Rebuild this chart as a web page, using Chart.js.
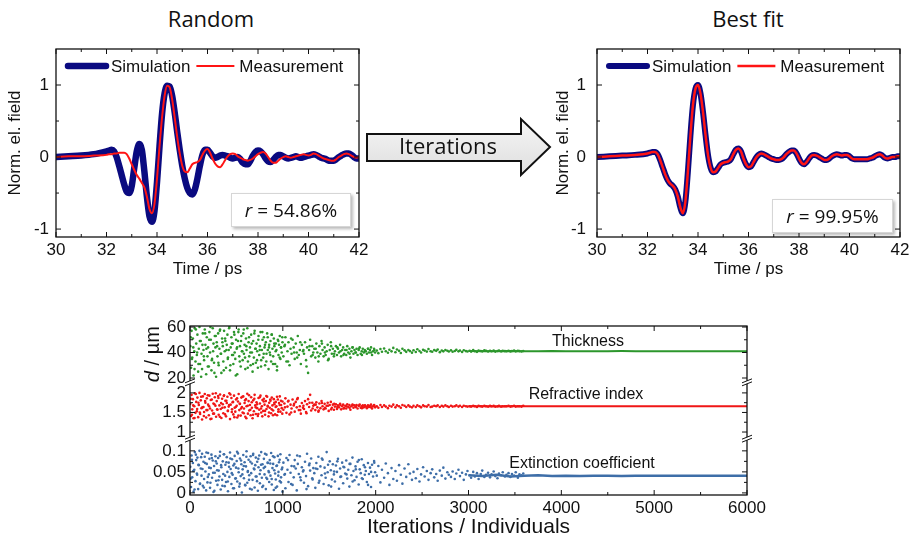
<!DOCTYPE html>
<html>
<head>
<meta charset="utf-8">
<script src="https://cdn.jsdelivr.net/npm/chart.js@4.4.1/dist/chart.umd.min.js"></script>
<style>
  body { margin: 0; width: 913px; height: 543px; background: #fff; position: relative; overflow: hidden; font-family: Arial, "Liberation Sans", sans-serif; }
  canvas { position: absolute; }
  .title { position: absolute; top: 3px; font-family: "Open Sans", sans-serif; font-size: 22px; color: #111; transform: translateX(-50%); white-space: nowrap; }
  .rbox { position: absolute; background: #fff; border: 1px solid #d6d6d6; box-shadow: 2px 2px 3px rgba(0,0,0,0.28); font-family: "Open Sans", sans-serif; font-size: 19px; color: #111; text-align: center; }
  .panel-label { position: absolute; font-size: 16px; color: #111; transform: translate(-50%, -50%); white-space: nowrap; }
  svg { position: absolute; left: 0; top: 0; }
</style>
</head>
<body>

<div class="title" style="left:211px">Random</div>
<div class="title" style="left:748px">Best fit</div>

<canvas id="random_fit" width="370" height="245" style="left:0;top:40px"></canvas>
<canvas id="best_fit" width="364" height="245" style="left:548px;top:40px"></canvas>
<canvas id="evolution" width="640" height="233" style="left:130px;top:310px"></canvas>

<svg width="913" height="300">
  <defs>
    <linearGradient id="arrowFill" x1="0" y1="0" x2="0" y2="1">
      <stop offset="0" stop-color="#f6f6f6"/>
      <stop offset="1" stop-color="#dedede"/>
    </linearGradient>
  </defs>
  <polygon points="367,134 521,134 521,119 550,147 521,175 521,161 367,161" fill="url(#arrowFill)" stroke="#111" stroke-width="2" stroke-linejoin="miter"/>
  <text x="448" y="154" text-anchor="middle" font-family="Open Sans, sans-serif" font-size="22" fill="#111">Iterations</text>
</svg>

<div class="rbox" style="left:231px;top:193px;width:118px;height:32px;line-height:32px"><i>r</i> = 54.86%</div>
<div class="rbox" style="left:772px;top:199px;width:119px;height:32px;line-height:32px"><i>r</i> = 99.95%</div>

<div class="panel-label" style="left:588px;top:341px">Thickness</div>
<div class="panel-label" style="left:586px;top:394px">Refractive index</div>
<div class="panel-label" style="left:582px;top:463px">Extinction coefficient</div>

<script>
/* dados das formas de onda (campo normalizado vs tempo em ps) */

const timePs = [30, 30.5, 31, 31.5,
  32.0, 32.1, 32.2, 32.3, 32.4, 32.5, 32.6, 32.7, 32.8, 32.9,
  33.0, 33.1, 33.2, 33.3, 33.4, 33.5, 33.6, 33.7, 33.8, 33.9,
  34.0, 34.1, 34.2, 34.3, 34.4, 34.5, 34.6, 34.7, 34.8, 34.9,
  35.0, 35.1, 35.2, 35.3, 35.4, 35.5, 35.6, 35.7, 35.8, 35.9,
  36.0, 36.1, 36.2, 36.3, 36.4, 36.5, 36.6, 36.7, 36.8, 36.9,
  37.0, 37.1, 37.2, 37.3, 37.4, 37.5, 37.6, 37.7, 37.8, 37.9,
  38.0, 38.1, 38.2, 38.3, 38.4, 38.5, 38.6, 38.7, 38.8, 38.9,
  39.0, 39.1, 39.2, 39.3, 39.4, 39.5, 39.6, 39.7, 39.8, 39.9,
  40.0, 40.1, 40.2, 40.3, 40.4, 40.5, 40.6, 40.7, 40.8, 40.9,
  41.0, 41.1, 41.2, 41.3, 41.4, 41.5, 41.6, 41.7, 41.8, 41.9,
  42.0];

const randomSimulation = [0.0, 0.01, 0.02, 0.04,
  0.08, 0.09, 0.1, 0.08, 0.0, -0.12, -0.25, -0.38, -0.48, -0.5,
  -0.4, -0.15, 0.08, 0.18, 0.1, -0.2, -0.55, -0.82, -0.9, -0.75,
  -0.35, 0.15, 0.6, 0.88, 0.99, 0.98, 0.85, 0.62, 0.35, 0.1,
  -0.12, -0.3, -0.43, -0.5, -0.52, -0.45, -0.3, -0.12, 0.03, 0.1,
  0.1, 0.06, 0.01, -0.01, 0.0, 0.02, 0.03, 0.02, 0.01, -0.01,
  -0.02, -0.01, 0.0, -0.03, -0.08, -0.1, -0.1, -0.05, 0.02, 0.07,
  0.09, 0.08, 0.04, -0.02, -0.06, -0.07, -0.04, 0.0, 0.03, 0.03,
  0.01, -0.01, -0.02, -0.01, 0.0, 0.01, 0.0, -0.01, 0.0, 0.01,
  0.02, 0.03, 0.04, 0.03, 0.01, -0.01, -0.02, -0.03, -0.05, -0.05,
  -0.05, -0.03, 0.0, 0.02, 0.04, 0.05, 0.05, 0.03, 0.0, -0.02,
  -0.02];

const randomMeasurement = [0.0, 0.01, 0.01, 0.02,
  0.03, 0.04, 0.04, 0.05, 0.05, 0.06, 0.06, 0.06, 0.04, -0.02,
  -0.1, -0.18, -0.25, -0.3, -0.36, -0.42, -0.55, -0.72, -0.78, -0.65,
  -0.3, 0.15, 0.55, 0.85, 0.99, 0.97, 0.8, 0.55, 0.28, 0.05,
  -0.12, -0.2, -0.21, -0.16, -0.1, -0.08, -0.07, -0.04, 0.03, 0.09,
  0.11, 0.06, -0.02, -0.09, -0.13, -0.14, -0.1, -0.04, 0.01, 0.04,
  0.05, 0.04, 0.01, -0.01, -0.03, -0.04, -0.05, -0.04, -0.02, 0.01,
  0.04, 0.06, 0.07, 0.05, 0.0, -0.05, -0.08, -0.08, -0.05, -0.02,
  0.0, 0.01, 0.0, -0.01, 0.0, 0.01, 0.02, 0.03, 0.04, 0.03,
  0.02, 0.03, 0.05, 0.04, 0.02, 0.0, -0.02, -0.03, -0.04, -0.05,
  -0.05, -0.03, 0.0, 0.02, 0.04, 0.05, 0.04, 0.02, 0.0, -0.01,
  0.0];

const bestFitMeasurement = [0.0, 0.01, 0.02, 0.03,
  0.05, 0.06, 0.07, 0.07, 0.04, -0.04, -0.14, -0.24, -0.32, -0.37,
  -0.4, -0.45, -0.55, -0.7, -0.78, -0.62, -0.2, 0.3, 0.72, 0.95,
  1.0, 0.88, 0.62, 0.3, 0.02, -0.15, -0.21, -0.2, -0.15, -0.1,
  -0.08, -0.07, -0.06, -0.03, 0.04, 0.1, 0.12, 0.08, -0.02, -0.1,
  -0.14, -0.13, -0.07, -0.01, 0.03, 0.05, 0.04, 0.02, 0.0, -0.02,
  -0.03, -0.04, -0.04, -0.03, 0.0, 0.04, 0.07, 0.09, 0.09, 0.05,
  -0.02, -0.08, -0.1, -0.07, -0.02, 0.02, 0.03, 0.02, 0.0, -0.02,
  -0.04, -0.04, -0.02, 0.01, 0.03, 0.04, 0.03, 0.02, 0.03, 0.03,
  0.01, -0.02, -0.03, -0.03, -0.03, -0.03, -0.03, -0.03, -0.02, -0.01,
  0.01, 0.03, 0.04, 0.02, -0.01, -0.02, -0.01, 0.0, 0.0, 0.01,
  0.01];

const bestFitSimulation = [0.0, 0.01, 0.02, 0.03,
  0.05, 0.06, 0.07, 0.07, 0.04, -0.04, -0.14, -0.24, -0.32, -0.37,
  -0.4, -0.45, -0.55, -0.7, -0.78, -0.62, -0.2, 0.3, 0.72, 0.95,
  1.0, 0.88, 0.62, 0.3, 0.02, -0.15, -0.21, -0.2, -0.15, -0.1,
  -0.08, -0.07, -0.06, -0.03, 0.04, 0.1, 0.12, 0.08, -0.02, -0.1,
  -0.14, -0.13, -0.07, -0.01, 0.03, 0.05, 0.04, 0.02, 0.0, -0.02,
  -0.03, -0.04, -0.04, -0.03, 0.0, 0.04, 0.07, 0.09, 0.09, 0.05,
  -0.02, -0.08, -0.1, -0.07, -0.02, 0.02, 0.03, 0.02, 0.0, -0.02,
  -0.04, -0.04, -0.02, 0.01, 0.03, 0.04, 0.03, 0.02, 0.03, 0.03,
  0.01, -0.02, -0.03, -0.03, -0.03, -0.03, -0.03, -0.03, -0.02, -0.01,
  0.01, 0.03, 0.04, 0.02, -0.01, -0.02, -0.01, 0.0, 0.0, 0.01,
  0.01];

const timeTicks = [30, 32, 34, 36, 38, 40, 42];
const timeMinorTicks = [31, 33, 35, 37, 39, 41];
const fieldTicks = [-1, 0, 1];
const fieldMinorTicks = [-0.5, 0.5];

/* dados da evolução dos parâmetros (um ponto por indivíduo) */

const iterations = [
  3, 11, 17, 24, 31, 38, 46, 52, 59, 67,
  74, 80, 88, 95, 102, 109, 116, 124, 130, 138,
  145, 152, 159, 166, 174, 181, 188, 195, 203, 209,
  216, 224, 231, 238, 245, 253, 259, 267, 274, 281,
  288, 296, 303, 309, 317, 324, 331, 338, 346, 353,
  359, 367, 374, 381, 388, 396, 403, 409, 417, 424,
  431, 438, 446, 453, 459, 467, 474, 481, 488, 496,
  503, 509, 517, 524, 531, 538, 546, 553, 559, 567,
  574, 581, 588, 596, 603, 609, 617, 624, 631, 638,
  646, 653, 659, 667, 674, 681, 688, 696, 703, 709,
  717, 724, 731, 738, 746, 753, 759, 767, 774, 781,
  788, 796, 803, 809, 817, 824, 831, 838, 846, 853,
  859, 867, 874, 881, 888, 896, 903, 909, 917, 924,
  931, 938, 946, 953, 959, 967, 974, 981, 988, 996,
  1006, 1017, 1028, 1039, 1050, 1061, 1072, 1083, 1094, 1105,
  1117, 1128, 1139, 1150, 1161, 1172, 1183, 1194, 1205, 1217,
  1228, 1239, 1250, 1261, 1272, 1283, 1294, 1305, 1317, 1328,
  1339, 1350, 1361, 1372, 1383, 1394, 1405, 1417, 1428, 1439,
  1450, 1461, 1472, 1483, 1494, 1505, 1517, 1528, 1539, 1550,
  1561, 1572, 1583, 1594, 1605, 1617, 1628, 1639, 1650, 1661,
  1672, 1683, 1694, 1705, 1717, 1728, 1739, 1750, 1761, 1772,
  1783, 1794, 1805, 1817, 1828, 1839, 1850, 1861, 1872, 1883,
  1894, 1905, 1917, 1928, 1939, 1950, 1961, 1972, 1983, 1994,
  2012, 2029, 2051, 2068, 2091, 2109, 2132, 2148, 2171, 2190,
  2213, 2229, 2252, 2271, 2288, 2311, 2329, 2352, 2369, 2391,
  2408, 2432, 2449, 2472, 2489, 2511, 2528, 2551, 2569, 2592,
  2609, 2631, 2652, 2668, 2691, 2712, 2729, 2751, 2772, 2788,
  2811, 2829, 2852, 2869, 2892, 2908, 2931, 2949, 2972, 2989,
  3012, 3028, 3051, 3069, 3091, 3109, 3132, 3148, 3171, 3189,
  3211, 3232, 3248, 3271, 3289, 3312, 3328, 3351, 3369, 3392,
  3409, 3431, 3452, 3468, 3491, 3509, 3532, 3549, 3571, 3590,
  7, 21, 35, 49, 63, 77, 91, 106, 120, 134,
  149, 163, 177, 192, 206, 220, 235, 249, 263, 278,
  292, 306, 321, 335, 349, 364, 378, 392, 407, 421,
  435, 450, 464, 478, 493, 507, 521, 536, 550, 564,
  579, 593, 607, 622, 636, 650, 665, 679, 693, 708,
  722, 736, 751, 765, 779, 794, 808, 822, 837, 851,
  865, 880, 894, 908, 923, 937, 951, 966, 980, 994,
  1023, 1056, 1089, 1122, 1155, 1188, 1222, 1255, 1288, 1321,
  1354, 1387, 1421, 1454, 1487, 1520, 1553, 1587, 1620, 1653,
  1686, 1719, 1752, 1786, 1819, 1852, 1885, 1918, 1951, 1985];

const thickness = [
  45, 28, 57, 36, 51, 22, 41, 59, 33, 47,
  38, 54, 25, 43, 60, 31, 49, 39, 27, 55,
  42, 34, 58, 46, 23, 52, 37, 44, 29, 56,
  40, 50, 26, 35, 59, 47, 32, 53, 44, 21,
  48, 37, 55, 30, 43, 58, 39, 24, 51, 45,
  33, 57, 41, 49, 28, 46, 54, 36, 42, 60,
  26, 44, 52, 38, 47, 31, 56, 40, 35, 50,
  43, 23, 49, 58, 37, 45, 29, 53, 41, 34,
  55, 39, 46, 27, 51, 42, 59, 33, 48, 37,
  44, 30, 54, 40, 25, 49, 36, 57, 43, 32,
  47, 41, 28, 53, 38, 45, 56, 34, 42, 50,
  36, 52, 44, 30, 48, 39, 55, 42, 27, 46,
  40, 49, 33, 54, 43, 37, 51, 45, 31, 47,
  42, 29, 50, 38, 46, 53, 35, 44, 40, 48,
  37, 45, 52, 33, 41, 48, 30, 43, 39, 50,
  44, 35, 47, 40, 53, 38, 42, 31, 46, 41,
  39, 48, 34, 44, 24, 42, 50, 37, 45, 40,
  43, 36, 47, 40, 33, 45, 39, 49, 42, 37,
  44, 38, 41, 46, 35, 42, 48, 39, 43, 37,
  41, 45, 38, 43, 40, 46, 37, 42, 44, 39,
  42, 38, 45, 40, 43, 36, 41, 44, 39, 42,
  40, 43, 38, 42, 44, 39, 41, 43, 40, 42,
  41, 39, 43, 40, 42, 44, 38, 41, 43, 40,
  41.5, 39.5, 42.8, 40.6, 43.2, 41.0, 39.8, 42.2, 40.9, 43.6,
  40.2, 42.4, 41.3, 39.6, 42.9, 41.7, 40.5, 42.0, 41.1, 39.9,
  41.8, 40.4, 42.5, 41.2, 40.0, 42.1, 41.5, 40.7, 42.7, 41.0,
  40.6, 41.9, 41.3, 42.3, 40.3, 41.6, 40.9, 42.0, 41.4, 40.8,
  41.7, 40.6, 41.2, 42.1, 40.9, 41.5, 40.4, 41.8, 41.1, 40.8,
  41.4, 40.7, 41.9, 41.0, 40.5, 41.6, 41.2, 40.9, 41.7, 41.3,
  40.8, 41.4, 41.0, 41.6, 40.7, 41.2, 41.5, 40.9, 41.3, 41.1,
  41.0, 41.4, 40.8, 41.2, 41.5, 40.9, 41.3, 41.1, 40.8, 41.2,
  52, 35, 44, 27, 58, 40, 31, 49, 21, 46,
  37, 55, 43, 29, 50, 60, 34, 41, 24, 53,
  45, 32, 57, 39, 48, 26, 51, 42, 35, 59,
  30, 47, 38, 54, 22, 44, 56, 33, 49, 41,
  58, 36, 45, 28, 52, 40, 47, 31, 55, 43,
  34, 50, 42, 29, 56, 39, 46, 33, 52, 44,
  38, 54, 31, 47, 41, 26, 49, 36, 44, 52,
  46, 33, 51, 40, 36, 48, 42, 29, 45, 38,
  43, 37, 47, 40, 34, 45, 39, 44, 41, 38,
  42, 39, 44, 40, 43, 38, 41, 43, 40, 42];

const refractiveIndex = [
  1.72, 1.41, 1.95, 1.58, 1.84, 1.35, 1.66, 1.99, 1.49, 1.77,
  1.53, 1.88, 1.38, 1.69, 2.0, 1.46, 1.81, 1.61, 1.32, 1.91,
  1.64, 1.51, 1.97, 1.75, 1.37, 1.86, 1.56, 1.70, 1.43, 1.93,
  1.60, 1.82, 1.34, 1.55, 1.98, 1.73, 1.47, 1.89, 1.67, 1.39,
  1.79, 1.57, 1.92, 1.44, 1.68, 1.96, 1.59, 1.36, 1.85, 1.71,
  1.48, 1.94, 1.63, 1.80, 1.40, 1.74, 1.90, 1.54, 1.65, 1.99,
  1.33, 1.70, 1.87, 1.58, 1.76, 1.45, 1.93, 1.62, 1.52, 1.83,
  1.67, 1.37, 1.78, 1.97, 1.56, 1.72, 1.42, 1.88, 1.64, 1.50,
  1.91, 1.60, 1.74, 1.39, 1.84, 1.66, 1.98, 1.47, 1.79, 1.55,
  1.69, 1.43, 1.89, 1.62, 1.35, 1.81, 1.53, 1.95, 1.68, 1.46,
  1.76, 1.61, 1.41, 1.87, 1.57, 1.73, 1.93, 1.50, 1.66, 1.82,
  1.54, 1.85, 1.70, 1.44, 1.79, 1.59, 1.90, 1.65, 1.40, 1.75,
  1.62, 1.80, 1.48, 1.88, 1.68, 1.55, 1.84, 1.71, 1.45, 1.77,
  1.66, 1.43, 1.83, 1.58, 1.74, 1.91, 1.52, 1.69, 1.61, 1.78,
  1.57, 1.73, 1.86, 1.49, 1.65, 1.80, 1.45, 1.70, 1.60, 1.83,
  1.68, 1.52, 1.77, 1.63, 1.87, 1.56, 1.66, 1.47, 1.74, 1.62,
  1.59, 1.79, 1.51, 1.71, 1.84, 1.64, 1.95, 1.55, 1.75, 1.67,
  1.70, 1.56, 1.76, 1.63, 1.52, 1.73, 1.61, 1.79, 1.66, 1.58,
  1.72, 1.60, 1.67, 1.75, 1.54, 1.69, 1.77, 1.62, 1.70, 1.57,
  1.65, 1.71, 1.59, 1.68, 1.63, 1.72, 1.58, 1.66, 1.70, 1.61,
  1.67, 1.60, 1.71, 1.64, 1.69, 1.57, 1.66, 1.70, 1.62, 1.68,
  1.64, 1.69, 1.60, 1.67, 1.70, 1.62, 1.66, 1.68, 1.63, 1.67,
  1.65, 1.61, 1.68, 1.64, 1.67, 1.70, 1.60, 1.66, 1.69, 1.63,
  1.66, 1.62, 1.69, 1.64, 1.68, 1.65, 1.61, 1.67, 1.65, 1.70,
  1.63, 1.68, 1.66, 1.62, 1.69, 1.67, 1.64, 1.68, 1.65, 1.63,
  1.67, 1.64, 1.68, 1.66, 1.63, 1.68, 1.66, 1.65, 1.69, 1.64,
  1.65, 1.67, 1.66, 1.68, 1.64, 1.67, 1.65, 1.68, 1.66, 1.64,
  1.67, 1.65, 1.66, 1.68, 1.65, 1.67, 1.64, 1.67, 1.66, 1.65,
  1.66, 1.65, 1.67, 1.66, 1.64, 1.67, 1.66, 1.65, 1.67, 1.66,
  1.65, 1.67, 1.66, 1.67, 1.65, 1.66, 1.67, 1.65, 1.66, 1.66,
  1.66, 1.67, 1.65, 1.66, 1.67, 1.65, 1.66, 1.66, 1.65, 1.67,
  1.85, 1.44, 1.68, 1.36, 1.97, 1.59, 1.75, 1.50, 1.90, 1.63,
  1.41, 1.79, 1.56, 1.94, 1.66, 1.33, 1.83, 1.47, 1.71, 1.99,
  1.58, 1.87, 1.39, 1.74, 1.62, 1.92, 1.45, 1.80, 1.54, 1.69,
  1.96, 1.51, 1.77, 1.38, 1.64, 1.86, 1.42, 1.72, 1.60, 1.90,
  1.48, 1.81, 1.35, 1.67, 1.94, 1.57, 1.76, 1.44, 1.85, 1.63,
  1.71, 1.46, 1.89, 1.60, 1.40, 1.78, 1.54, 1.92, 1.67, 1.50,
  1.83, 1.58, 1.43, 1.75, 1.64, 1.90, 1.52, 1.69, 1.80, 1.47,
  1.63, 1.78, 1.50, 1.72, 1.84, 1.56, 1.67, 1.48, 1.75, 1.60,
  1.70, 1.55, 1.74, 1.62, 1.67, 1.58, 1.72, 1.64, 1.69, 1.60,
  1.66, 1.62, 1.69, 1.64, 1.67, 1.61, 1.68, 1.65, 1.63, 1.67];

const extinction = [
  0.062, 0.014, 0.089, 0.037, 0.071, 0.003, 0.055, 0.097, 0.028, 0.078,
  0.046, 0.084, 0.009, 0.066, 0.1, 0.022, 0.058, 0.041, 0.093, 0.017,
  0.074, 0.033, 0.086, 0.051, 0.006, 0.069, 0.025, 0.095, 0.044, 0.081,
  0.012, 0.059, 0.091, 0.036, 0.077, 0.002, 0.064, 0.048, 0.087, 0.029,
  0.07, 0.019, 0.083, 0.053, 0.039, 0.098, 0.008, 0.061, 0.031, 0.075,
  0.045, 0.092, 0.016, 0.067, 0.026, 0.085, 0.05, 0.004, 0.072, 0.038,
  0.096, 0.057, 0.021, 0.08, 0.043, 0.065, 0.011, 0.088, 0.034, 0.06,
  0.076, 0.027, 0.094, 0.049, 0.015, 0.082, 0.04, 0.068, 0.001, 0.056,
  0.09, 0.035, 0.073, 0.018, 0.063, 0.099, 0.024, 0.052, 0.079, 0.042,
  0.01, 0.087, 0.047, 0.07, 0.031, 0.093, 0.058, 0.013, 0.066, 0.084,
  0.039, 0.074, 0.005, 0.061, 0.089, 0.023, 0.054, 0.097, 0.036, 0.068,
  0.017, 0.081, 0.044, 0.062, 0.009, 0.091, 0.033, 0.071, 0.052, 0.026,
  0.078, 0.041, 0.095, 0.02, 0.059, 0.069, 0.007, 0.085, 0.046, 0.032,
  0.064, 0.015, 0.088, 0.05, 0.073, 0.028, 0.092, 0.037, 0.056, 0.003,
  0.072, 0.043, 0.011, 0.083, 0.055, 0.026, 0.09, 0.048, 0.064, 0.019,
  0.037, 0.078, 0.058, 0.006, 0.069, 0.045, 0.087, 0.03, 0.061, 0.051,
  0.024, 0.074, 0.04, 0.093, 0.016, 0.066, 0.053, 0.082, 0.035, 0.059,
  0.047, 0.012, 0.071, 0.057, 0.086, 0.029, 0.063, 0.042, 0.079, 0.021,
  0.06, 0.036, 0.097, 0.049, 0.018, 0.075, 0.054, 0.032, 0.068, 0.044,
  0.027, 0.065, 0.05, 0.081, 0.01, 0.058, 0.039, 0.072, 0.023, 0.061,
  0.046, 0.077, 0.034, 0.055, 0.015, 0.069, 0.042, 0.084, 0.052, 0.03,
  0.063, 0.038, 0.074, 0.02, 0.056, 0.047, 0.08, 0.033, 0.066, 0.043,
  0.052, 0.026, 0.071, 0.045, 0.06, 0.014, 0.067, 0.039, 0.076, 0.049,
  0.041, 0.064, 0.025, 0.055, 0.036, 0.07, 0.047, 0.019, 0.059, 0.033,
  0.052, 0.029, 0.066, 0.043, 0.022, 0.058, 0.038, 0.068, 0.046, 0.031,
  0.05, 0.035, 0.057, 0.027, 0.044, 0.061, 0.039, 0.052, 0.031, 0.047,
  0.056, 0.037, 0.045, 0.029, 0.053, 0.041, 0.06, 0.034, 0.049, 0.043,
  0.038, 0.051, 0.033, 0.046, 0.055, 0.04, 0.048, 0.031, 0.044, 0.052,
  0.042, 0.036, 0.05, 0.039, 0.047, 0.033, 0.045, 0.053, 0.038, 0.043,
  0.048, 0.037, 0.044, 0.051, 0.04, 0.035, 0.046, 0.042, 0.049, 0.039,
  0.043, 0.047, 0.038, 0.045, 0.041, 0.049, 0.036, 0.044, 0.042, 0.046,
  0.034, 0.079, 0.052, 0.008, 0.091, 0.043, 0.067, 0.021, 0.085, 0.057,
  0.013, 0.071, 0.096, 0.038, 0.06, 0.024, 0.083, 0.048, 0.005, 0.075,
  0.054, 0.03, 0.088, 0.066, 0.017, 0.092, 0.041, 0.073, 0.027, 0.062,
  0.082, 0.047, 0.011, 0.069, 0.035, 0.098, 0.058, 0.022, 0.077, 0.044,
  0.064, 0.019, 0.086, 0.05, 0.031, 0.074, 0.008, 0.09, 0.056, 0.039,
  0.028, 0.081, 0.045, 0.067, 0.014, 0.059, 0.093, 0.036, 0.072, 0.049,
  0.07, 0.033, 0.087, 0.054, 0.012, 0.065, 0.041, 0.079, 0.025, 0.06,
  0.045, 0.078, 0.021, 0.063, 0.089, 0.037, 0.054, 0.009, 0.07, 0.032,
  0.058, 0.024, 0.082, 0.046, 0.067, 0.015, 0.051, 0.075, 0.038, 0.062,
  0.044, 0.069, 0.027, 0.056, 0.078, 0.035, 0.061, 0.019, 0.05, 0.072];

/* valores convergidos (linha contínua no fim da otimização) */
const trendIterations = [3000, 3150, 3300, 3450, 3600, 3750, 3900, 4050, 4200, 4350,
  4500, 4650, 4800, 4950, 5100, 5250, 5400, 5550, 5700, 5850, 6000];
const thicknessTrend = [41.1, 41.0, 40.9, 41.1, 41.0, 41.0, 41.1, 40.9, 41.0, 41.0,
  41.0, 41.1, 41.0, 41.0, 41.0, 41.0, 41.0, 41.0, 41.0, 41.0, 41.0];
const refractiveTrend = [1.66, 1.66, 1.65, 1.66, 1.66, 1.66, 1.66, 1.66, 1.66, 1.66,
  1.66, 1.66, 1.66, 1.66, 1.66, 1.66, 1.66, 1.66, 1.66, 1.66, 1.66];
const extinctionTrend = [0.042, 0.04, 0.043, 0.039, 0.041, 0.042, 0.04, 0.041, 0.04, 0.041,
  0.041, 0.04, 0.041, 0.041, 0.041, 0.041, 0.041, 0.041, 0.041, 0.041, 0.041];

const iterTicks = [0, 1000, 2000, 3000, 4000, 5000, 6000];
const iterMinorTicks = [500, 1500, 2500, 3500, 4500, 5500];
const thicknessTicks = [20, 40, 60];
const thicknessMinorTicks = [30, 50];
const refractiveTicks = [1, 1.5, 2];
const refractiveMinorTicks = [1.25, 1.75];
const extinctionTicks = [0, 0.05, 0.1];
const extinctionMinorTicks = [0.025, 0.075];

/* estilo geral */

Chart.defaults.font.family = 'Arial, "Liberation Sans", sans-serif';
Chart.defaults.color = '#111';
Chart.defaults.animation = false;

const NAVY = 'rgb(10, 10, 128)';
const RED = 'rgb(255, 20, 20)';
const GREEN = 'rgb(44, 150, 44)';
const SCARLET = 'rgb(240, 22, 22)';
const BLUE = 'rgb(62, 110, 168)';

const pts = (xs, ys) => xs.map((x, i) => ({ x: x, y: ys[i] }));
const fixTicks = (values) => (scale) => { scale.ticks = values.map(v => ({ value: v })); };

/* moldura estilo Origin: caixa preta, marcas para dentro nos quatro lados e quebras de eixo */
const originFrame = {
  id: 'originFrame',
  afterDatasetsDraw(chart, args, opts) {
    const ctx = chart.ctx;
    const a = chart.chartArea;
    ctx.save();
    ctx.strokeStyle = '#111';
    ctx.lineWidth = 1.3;
    ctx.strokeRect(a.left, a.top, a.right - a.left, a.bottom - a.top);
    ctx.lineWidth = 1;
    const mark = (s, v, len) => {
      const p = s.getPixelForValue(v);
      ctx.beginPath();
      if (s.isHorizontal()) {
        ctx.moveTo(p, a.bottom); ctx.lineTo(p, a.bottom - len);
        ctx.moveTo(p, a.top); ctx.lineTo(p, a.top + len);
      } else {
        ctx.moveTo(a.left, p); ctx.lineTo(a.left + len, p);
        ctx.moveTo(a.right, p); ctx.lineTo(a.right - len, p);
      }
      ctx.stroke();
    };
    Object.values(chart.scales).forEach(s => {
      s.ticks.forEach(t => mark(s, t.value, 5));
      ((opts.minor || {})[s.id] || []).forEach(v => mark(s, v, 3));
    });
    (opts.breaks || []).forEach(id => {
      const y = chart.scales[id].top;
      [a.left, a.right].forEach(x => {
        ctx.fillStyle = '#fff';
        ctx.fillRect(x - 2, y - 1.5, 4, 3);
        ctx.beginPath();
        ctx.moveTo(x - 5, y + 0.5); ctx.lineTo(x + 5, y - 3.5);
        ctx.moveTo(x - 5, y + 3.5); ctx.lineTo(x + 5, y - 0.5);
        ctx.stroke();
      });
    });
    ctx.restore();
  }
};

/* legenda dentro da área do gráfico */
const inlineLegend = {
  id: 'inlineLegend',
  afterDraw(chart) {
    const ctx = chart.ctx;
    const a = chart.chartArea;
    let x = a.left + 12;
    const y = a.top + 17;
    ctx.save();
    ctx.font = '17px Arial, "Liberation Sans", sans-serif';
    ctx.textBaseline = 'middle';
    ctx.fillStyle = '#111';
    chart.data.datasets.forEach(ds => {
      ctx.strokeStyle = ds.borderColor;
      ctx.lineWidth = ds.borderWidth;
      ctx.lineCap = ds.borderWidth > 3 ? 'round' : 'butt';
      ctx.beginPath();
      ctx.moveTo(x, y); ctx.lineTo(x + 38, y);
      ctx.stroke();
      x += 43;
      ctx.fillText(ds.label, x, y + 1);
      x += ctx.measureText(ds.label).width + 6;
    });
    ctx.restore();
  }
};

/* título do eixo y com "d" em itálico */
const italicTitle = {
  id: 'italicTitle',
  afterDraw(chart, args, opts) {
    const ctx = chart.ctx;
    const s = chart.scales[opts.scale];
    const parts = opts.parts;
    ctx.save();
    ctx.translate(opts.x, (s.top + s.bottom) / 2);
    ctx.rotate(-Math.PI / 2);
    ctx.textBaseline = 'middle';
    ctx.fillStyle = '#111';
    let total = 0;
    parts.forEach(p => { ctx.font = p.font; total += ctx.measureText(p.text).width; });
    let x = -total / 2;
    parts.forEach(p => { ctx.font = p.font; ctx.fillText(p.text, x, 0); x += ctx.measureText(p.text).width; });
    ctx.restore();
  }
};

const noEdgePadY = s => { s.paddingTop = 0; s.paddingBottom = 0; };
const noEdgePadX = s => { s.paddingLeft = 0; s.paddingRight = 0; };

function waveConfig(simData, measData, simWidth, measWidth, yPad, yTitlePad) {
  return {
    type: 'line',
    data: {
      datasets: [
        { label: 'Simulation', data: pts(timePs, simData), borderColor: NAVY, borderWidth: simWidth, pointRadius: 0, cubicInterpolationMode: 'monotone', borderCapStyle: 'round', borderJoinStyle: 'round', order: 2 },
        { label: 'Measurement', data: pts(timePs, measData), borderColor: RED, borderWidth: measWidth, pointRadius: 0, cubicInterpolationMode: 'monotone', order: 1 }
      ]
    },
    options: {
      responsive: false,
      devicePixelRatio: 1,
      layout: { padding: { top: 9, right: yPad.right, left: 0, bottom: 0 } },
      plugins: {
        legend: { display: false },
        tooltip: { enabled: false },
        originFrame: { minor: { x: timeMinorTicks, y: fieldMinorTicks } }
      },
      scales: {
        x: {
          type: 'linear', min: 30, max: 42,
          afterBuildTicks: fixTicks(timeTicks),
          afterFit: s => { s.height = 48; noEdgePadX(s); },
          grid: { display: false, drawTicks: false },
          border: { display: false },
          ticks: { font: { size: 17 }, color: '#111', padding: 3, maxRotation: 0, autoSkip: false, callback: v => String(v) },
          title: { display: true, text: 'Time / ps', font: { size: 17 }, color: '#111', padding: { top: 0, bottom: 5 } }
        },
        y: {
          type: 'linear', min: -1.11, max: 1.5,
          afterBuildTicks: fixTicks(fieldTicks),
          afterFit: s => { s.width = yPad.width; noEdgePadY(s); },
          grid: { display: false, drawTicks: false },
          border: { display: false },
          ticks: { font: { size: 17 }, color: '#111', padding: yPad.ticks, autoSkip: false, callback: v => String(v) },
          title: { display: true, text: 'Norm. el. field', font: { size: 17 }, color: '#111', padding: { top: yTitlePad, bottom: 0 } }
        }
      }
    },
    plugins: [originFrame, inlineLegend]
  };
}

const grafico_random = new Chart(
  document.getElementById('random_fit'),
  waveConfig(randomSimulation, randomMeasurement, 6.5, 2, { right: 11, width: 56, ticks: 7 }, 5)
);

const grafico_best_fit = new Chart(
  document.getElementById('best_fit'),
  waveConfig(bestFitSimulation, bestFitMeasurement, 6, 2.5, { right: 12, width: 49, ticks: 11 }, 5)
);

/* gráfico de dispersão empilhado: espessura, índice de refração, coeficiente de extinção */

function panelAxis(min, max, ticks) {
  return {
    type: 'linear', position: 'left', stack: 'params', stackWeight: 1,
    min: min, max: max,
    afterBuildTicks: fixTicks(ticks),
    afterFit: s => { s.width = 60; noEdgePadY(s); },
    grid: { display: false, drawTicks: false },
    border: { display: false },
    ticks: { font: { size: 17 }, color: '#111', padding: 4, autoSkip: false, callback: v => String(v) }
  };
}

const cloudStyle = (color) => ({ pointRadius: 1.3, pointBorderWidth: 0, pointBackgroundColor: color, borderColor: color, showLine: false });
const trendStyle = (color, width) => ({ pointRadius: 0, borderColor: color, borderWidth: width, showLine: true, tension: 0 });

const grafico_evolucao = new Chart(
  document.getElementById('evolution'),
  {
    type: 'scatter',
    data: {
      datasets: [
        Object.assign({ label: 'Thickness', data: pts(iterations, thickness), yAxisID: 'yThick' }, cloudStyle(GREEN)),
        Object.assign({ label: 'Thickness trend', data: pts(trendIterations, thicknessTrend), yAxisID: 'yThick' }, trendStyle(GREEN, 2)),
        Object.assign({ label: 'Refractive index', data: pts(iterations, refractiveIndex), yAxisID: 'yRefr' }, cloudStyle(SCARLET)),
        Object.assign({ label: 'Refractive trend', data: pts(trendIterations, refractiveTrend), yAxisID: 'yRefr' }, trendStyle(SCARLET, 2)),
        Object.assign({ label: 'Extinction coefficient', data: pts(iterations, extinction), yAxisID: 'yExt' }, cloudStyle(BLUE)),
        Object.assign({ label: 'Extinction trend', data: pts(trendIterations, extinctionTrend), yAxisID: 'yExt' }, trendStyle(BLUE, 2.5))
      ]
    },
    options: {
      responsive: false,
      devicePixelRatio: 1,
      layout: { padding: { top: 16, right: 23, left: 0, bottom: 0 } },
      plugins: {
        legend: { display: false },
        tooltip: { enabled: false },
        originFrame: {
          minor: { x: iterMinorTicks, yThick: thicknessMinorTicks, yRefr: refractiveMinorTicks, yExt: extinctionMinorTicks },
          breaks: ['yRefr', 'yExt']
        },
        italicTitle: {
          scale: 'yThick', x: 23,
          parts: [
            { text: 'd', font: 'italic 20px Arial, "Liberation Sans", sans-serif' },
            { text: ' / µm', font: '20px Arial, "Liberation Sans", sans-serif' }
          ]
        }
      },
      scales: {
        x: {
          type: 'linear', min: 0, max: 6000,
          afterBuildTicks: fixTicks(iterTicks),
          afterFit: s => { s.height = 48; noEdgePadX(s); },
          grid: { display: false, drawTicks: false },
          border: { display: false },
          ticks: { font: { size: 17 }, color: '#111', padding: 3, maxRotation: 0, autoSkip: false, callback: v => String(v) },
          title: { display: true, text: 'Iterations / Individuals', font: { size: 21 }, color: '#111', padding: { top: 0, bottom: 3 } }
        },
        yExt: panelAxis(-0.005, 0.129, extinctionTicks),
        yRefr: panelAxis(0.83, 2.27, refractiveTicks),
        yThick: panelAxis(16.6, 60.8, thicknessTicks)
      }
    },
    plugins: [originFrame, italicTitle]
  }
);
</script>
</body>
</html>
